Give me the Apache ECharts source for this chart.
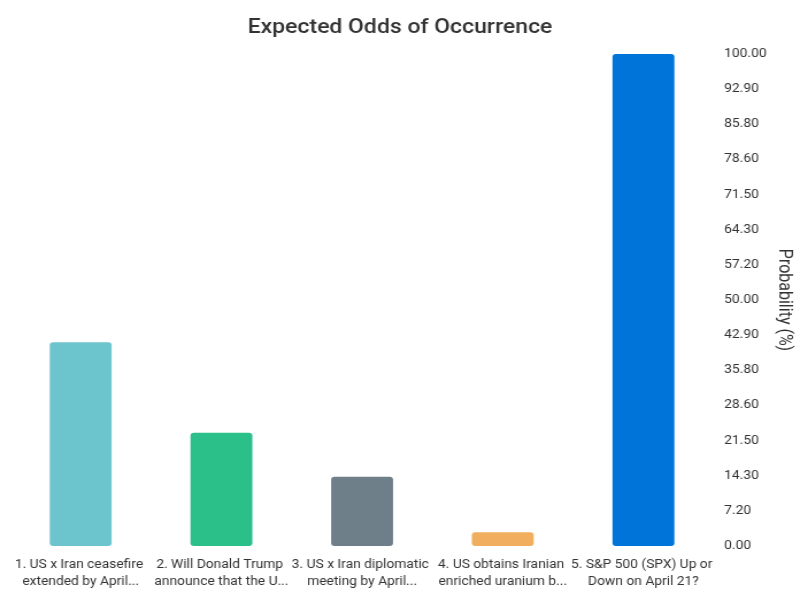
<!DOCTYPE html>
<html>
<head>
<meta charset="utf-8">
<script src="https://cdn.jsdelivr.net/npm/echarts@6/dist/echarts.min.js"></script>
<style>
html,body{margin:0;padding:0;background:#fff;overflow:hidden;}
#wrap{width:800px;height:600px;overflow:hidden;}
#c{width:696px;height:600px;transform:scaleX(1.1494);transform-origin:0 0;}
</style>
</head>
<body>
<div id="wrap"><div id="c"></div></div>
<script>
const categories = [
  "1. US x Iran ceasefire extended by April...",
  "2. Will Donald Trump announce that the U...",
  "3. US x Iran diplomatic meeting by April...",
  "4. US obtains Iranian enriched uranium b...",
  "5. S&P 500 (SPX) Up or Down on April 21?"
];
const probabilities = [41.4, 23.0, 14.1, 2.8, 100];
const barColors = ["#6cc4cc", "#2bbf89", "#6e7f8a", "#f0ae5e", "#0074d9"];
const tickLabels = ["0.00","7.20","14.30","21.50","28.60","35.80","42.90","50.00","57.20","64.30","71.50","78.60","85.80","92.90","100.00"];

const chart = echarts.init(document.getElementById('c'));
const step = 100 / (tickLabels.length - 1);
chart.setOption({
  animation: false,
  textStyle: { fontFamily: 'Roboto' },
  title: {
    text: 'Expected Odds of Occurrence',
    left: 'center',
    top: 13,
    textStyle: { fontFamily: 'Roboto', fontSize: 20, fontWeight: 500, color: '#333' }
  },
  grid: { left: 9, right: 75, top: 54, bottom: 54, containLabel: false, outerBoundsMode: 'none' },
  xAxis: {
    type: 'category',
    data: categories,
    axisLine: { show: false },
    axisTick: { show: false },
    axisLabel: {
      interval: 0,
      width: 130,
      overflow: 'break',
      color: '#333',
      fontSize: 12,
      lineHeight: 17,
      margin: 10
    }
  },
  yAxis: {
    type: 'value',
    position: 'right',
    min: 0,
    max: 100,
    interval: step,
    name: 'Probability (%)',
    nameLocation: 'middle',
    nameRotate: -90,
    nameGap: 53,
    nameMoveOverlap: false,
    nameTextStyle: { fontSize: 16, color: '#333', fontFamily: 'Roboto' },
    axisLine: { show: false },
    axisTick: { show: false },
    splitLine: { show: false },
    axisLabel: {
      color: '#333',
      fontSize: 12,
      margin: 9,
      formatter: function (v) { return tickLabels[Math.round(v / step)]; }
    }
  },
  series: [{
    type: 'bar',
    barWidth: '44%',
    data: probabilities.map((v, i) => ({ value: v, itemStyle: { color: barColors[i] } })),
    itemStyle: { borderRadius: 3 }
  }]
});
</script>
</body>
</html>
